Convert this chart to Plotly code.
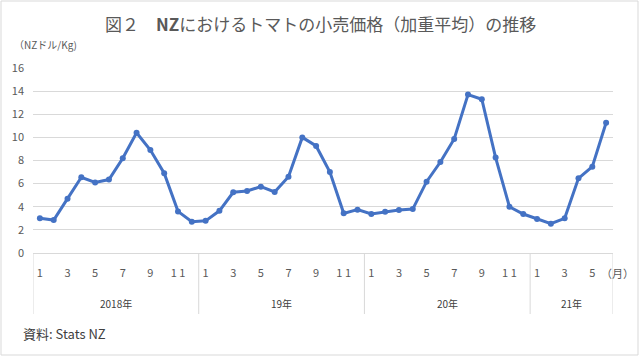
import plotly.graph_objects as go

# Data: monthly retail price of tomatoes in NZ (NZ$/kg), Jan 2018 - Jun 2021
years = ["2018年", "19年", "20年", "21年"]
months_per_year = [12, 12, 12, 6]
prices = [
    3.0, 2.85, 4.7, 6.55, 6.1, 6.35, 8.2, 10.4, 8.9, 6.9, 3.6, 2.7,
    2.78, 3.65, 5.25, 5.36, 5.74, 5.28, 6.6, 10.0, 9.26, 7.0, 3.43, 3.75,
    3.37, 3.57, 3.72, 3.8, 6.17, 7.87, 9.86, 13.7, 13.3, 8.25, 4.0, 3.37,
    2.94, 2.54, 3.0, 6.46, 7.47, 11.27,
]
month_labels = ["1", "3", "5", "7", "9", "1 1"]
y_ticks = [0, 2, 4, 6, 8, 10, 12, 14, 16]

months = []
for n in months_per_year:
    months += list(range(1, n + 1))
x_idx = list(range(len(prices)))

tickvals = [i for i, m in zip(x_idx, months) if m % 2 == 1]
ticktext = [month_labels[(m - 1) // 2] for m in months if m % 2 == 1]

FONT = "Noto Sans CJK JP"
GRID = "#d9d9d9"

fig = go.Figure()
fig.add_trace(go.Scatter(
    x=x_idx, y=prices, mode="lines+markers",
    line=dict(color="#4472C4", width=3),
    marker=dict(color="#4472C4", size=6),
    showlegend=False, hoverinfo="skip",
))

L, R, T, B = 33, 27, 68, 104
W, H = 640, 357
pw, ph = W - L - R, H - T - B

def px2x(px):
    return (px - L) / pw

def py2y(py):
    return (H - B - py) / ph

shapes = []
bounds = [-0.5]
for n in months_per_year:
    bounds.append(bounds[-1] + n)
for b in bounds:
    shapes.append(dict(type="line", xref="x", yref="paper", x0=b, x1=b,
                       y0=0, y1=py2y(314), line=dict(color=GRID, width=1)))
shapes.append(dict(type="rect", xref="paper", yref="paper",
                   x0=px2x(1), x1=px2x(638), y0=py2y(1), y1=py2y(355),
                   line=dict(color=GRID, width=1), fillcolor="rgba(0,0,0,0)"))

def ann(x, y, text, size, color, xanchor="center", xref="paper"):
    return dict(x=x, y=y, xref=xref, yref="paper", text=text, showarrow=False,
                xanchor=xanchor, yanchor="middle",
                font=dict(family=FONT, size=size, color=color))

annotations = []
for i, yr in enumerate(years):
    center = (bounds[i] + bounds[i + 1]) / 2
    annotations.append(ann(center, py2y(303), yr, 10, "#404040", xref="x"))
annotations += [
    ann(px2x(320), py2y(23), "図２　<b>NZ</b>におけるトマトの小売価格（加重平均）の推移", 17, "#595959"),
    ann(px2x(12), py2y(45), "（NZドル/Kg)", 10, "#595959", xanchor="left"),
    ann(px2x(599), py2y(273), "（月）", 11, "#595959", xanchor="left"),
    ann(px2x(21), py2y(333), "資料: Stats NZ", 13, "#404040", xanchor="left"),
]

fig.update_layout(
    width=W, height=H,
    margin=dict(l=L, r=R, t=T, b=B),
    paper_bgcolor="white", plot_bgcolor="white",
    shapes=shapes, annotations=annotations,
    xaxis=dict(range=[-0.5, len(prices) - 0.5], tickvals=tickvals, ticktext=ticktext,
               showgrid=False, zeroline=False, showline=False, ticks="",
               ticklabelstandoff=12,
               tickfont=dict(family=FONT, size=11, color="#595959")),
    yaxis=dict(range=[0, 16], tickvals=y_ticks, showgrid=True, gridcolor=GRID,
               gridwidth=1, zeroline=True, zerolinecolor=GRID, zerolinewidth=1,
               ticks="", ticklabelstandoff=8,
               tickfont=dict(family=FONT, size=11, color="#595959")),
)

fig.write_html("out.html", config={"displayModeBar": False},
               post_script="document.body.style.margin='0';document.body.style.overflow='hidden';")
